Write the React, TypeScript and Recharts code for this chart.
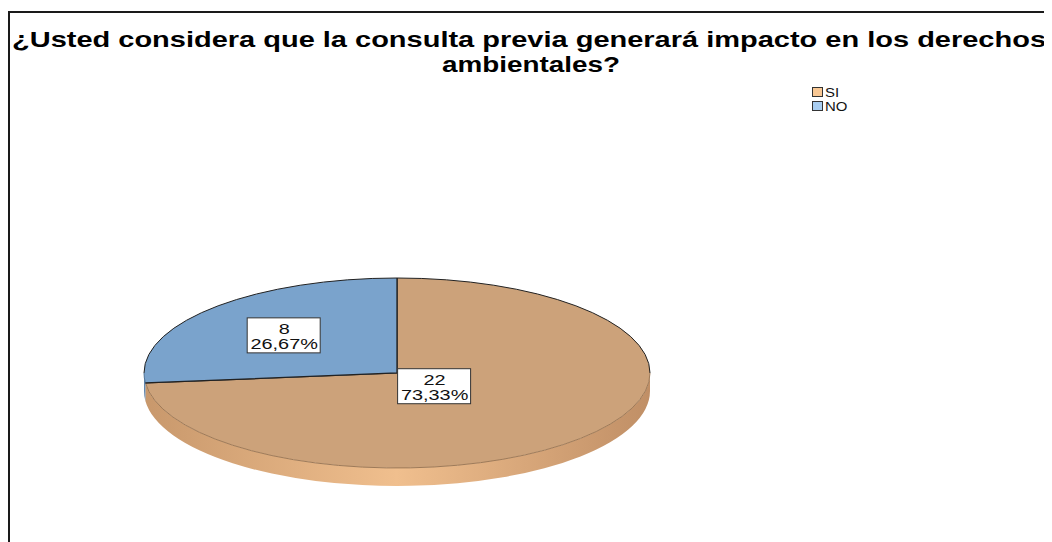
import React from 'react';
import { PieChart, Pie, Cell, Legend, Customized } from 'recharts';

const categories = ['SI', 'NO'];
const counts = [22, 8];
const topColors = ['#CCA27A', '#7AA3CC'];
const sideStops = [
  ['#C8986C', '#F0BF8E', '#C08F66'],
  ['#5F87B0', '#8FB3D8', '#5F87B0'],
];
const rimColors = ['#9E7A58', '#4F7396'];
const legendColors = ['#F9C894', '#A9CEF2'];
const labelRadius = [0.2, 0.6];
const titleLines = [
  '¿Usted considera que la consulta previa generará impacto en los derechos',
  'ambientales?',
];

const data = categories.map((name, i) => ({ name, value: counts[i] }));

const W = 1044;
const H = 534;
const CX = 389;
const CY = 365;
const RX = 253;
const RY = 95;
const DEPTH = 18;
const K = RY / RX;
const RAD = Math.PI / 180;
const FONT = '"Liberation Sans", Arial, sans-serif';

const pt = (cx: number, cy: number, r: number, a: number, dy = 0) =>
  [cx + r * Math.cos(a * RAD), cy - K * r * Math.sin(a * RAD) + dy] as [number, number];

const splitPieces = (lo: number, hi: number) => {
  const pts = [lo];
  let m = Math.ceil(lo / 180) * 180;
  if (m === lo) m += 180;
  while (m < hi) {
    pts.push(m);
    m += 180;
  }
  pts.push(hi);
  const pieces: { a: number; b: number; lower: boolean }[] = [];
  for (let i = 0; i < pts.length - 1; i++) {
    const a = pts[i];
    const b = pts[i + 1];
    const mid = (a + b) / 2;
    pieces.push({ a, b, lower: Math.sin(mid * RAD) < 0 });
  }
  return pieces;
};

const EllipseSector = (props: any) => {
  const { cx, cy, outerRadius, startAngle, endAngle, fill } = props;
  const name = props.payload?.name ?? props.name;
  const idx = Math.max(0, categories.indexOf(name));
  const r = outerRadius;
  const s = Math.max(startAngle, endAngle);
  const e = Math.min(startAngle, endAngle);
  const ps = pt(cx, cy, r, s);
  const pe = pt(cx, cy, r, e);
  const large = s - e > 180 ? 1 : 0;
  const top = `M${cx},${cy} L${ps[0]},${ps[1]} A${r},${r * K} 0 ${large} 1 ${pe[0]},${pe[1]} Z`;
  const pieces = splitPieces(e, s);
  const gid = `side-grad-${idx}`;
  return (
    <g>
      <defs>
        <linearGradient id={gid} gradientUnits="userSpaceOnUse" x1={cx - r} y1={0} x2={cx + r} y2={0}>
          <stop offset="0" stopColor={sideStops[idx][0]} />
          <stop offset="0.5" stopColor={sideStops[idx][1]} />
          <stop offset="1" stopColor={sideStops[idx][2]} />
        </linearGradient>
      </defs>
      {pieces
        .filter((p) => p.lower)
        .map((p, i) => {
          const A = pt(cx, cy, r, p.a);
          const B = pt(cx, cy, r, p.b);
          const A2 = pt(cx, cy, r, p.a, DEPTH);
          const B2 = pt(cx, cy, r, p.b, DEPTH);
          const d = `M${B[0]},${B[1]} A${r},${r * K} 0 0 1 ${A[0]},${A[1]} L${A2[0]},${A2[1]} A${r},${r * K} 0 0 0 ${B2[0]},${B2[1]} Z`;
          return <path key={`s${i}`} d={d} fill={`url(#${gid})`} stroke="none" />;
        })}
      <path d={top} fill={fill} stroke="none" />
      {pieces.map((p, i) => {
        const A = pt(cx, cy, r, p.a);
        const B = pt(cx, cy, r, p.b);
        const d = `M${B[0]},${B[1]} A${r},${r * K} 0 0 1 ${A[0]},${A[1]}`;
        return (
          <path
            key={`a${i}`}
            d={d}
            fill="none"
            stroke={p.lower ? rimColors[idx] : '#222'}
            strokeWidth={1}
          />
        );
      })}
      <path
        d={`M${ps[0]},${ps[1]} L${cx},${cy} L${pe[0]},${pe[1]}`}
        fill="none"
        stroke="#222"
        strokeWidth={1.3}
      />
    </g>
  );
};

const renderLabel = (props: any) => {
  const { cx, cy, midAngle, value, percent } = props;
  const name = props.payload?.name ?? props.name;
  const idx = Math.max(0, categories.indexOf(name));
  const r = RX * labelRadius[idx];
  const x = cx + r * Math.cos(midAngle * RAD);
  const y = cy - K * r * Math.sin(midAngle * RAD);
  const pct = (percent * 100).toFixed(2).replace('.', ',') + '%';
  return (
    <g>
      <rect x={x - 37} y={y - 17} width={73} height={35} fill="#fff" stroke="#333" strokeWidth={1} />
      <text
        transform={`translate(${x},${y - 1}) scale(1.42,1)`}
        textAnchor="middle"
        fontSize={14}
        fontFamily={FONT}
        fill="#111"
      >
        {value}
      </text>
      <text
        transform={`translate(${x},${y + 14}) scale(1.42,1)`}
        textAnchor="middle"
        fontSize={14}
        fontFamily={FONT}
        fill="#111"
      >
        {pct}
      </text>
    </g>
  );
};

const renderLegend = (props: any) => {
  const payload = [...(props.payload || [])].sort(
    (a: any, b: any) => categories.indexOf(a.value) - categories.indexOf(b.value)
  );
  return (
    <svg width={70} height={40} style={{ display: 'block', overflow: 'visible' }}>
      {payload.map((p: any, i: number) => {
        const idx = Math.max(0, categories.indexOf(p.value));
        return (
          <g key={p.value}>
            <rect x={0.5} y={4.5 + i * 14} width={10} height={9} fill={legendColors[idx]} stroke="#333" />
            <text
              transform={`translate(13,${14 + i * 14}) scale(1.15,1)`}
              fontSize={13}
              fontFamily={FONT}
              fill="#111"
            >
              {p.value}
            </text>
          </g>
        );
      })}
    </svg>
  );
};

const Decorations = () => (
  <g>
    <path d={`M1,${H} L1,4 L${W},4`} fill="none" stroke="#1a1a1a" strokeWidth={2} />
    <text
      x={4}
      y={39}
      textLength={1034}
      lengthAdjust="spacingAndGlyphs"
      fontSize={22}
      fontWeight="bold"
      fontFamily={FONT}
      fill="#000"
    >
      {titleLines[0]}
    </text>
    <text
      x={434}
      y={64}
      textLength={178}
      lengthAdjust="spacingAndGlyphs"
      fontSize={22}
      fontWeight="bold"
      fontFamily={FONT}
      fill="#000"
    >
      {titleLines[1]}
    </text>
  </g>
);

export default function App() {
  return (
    <div style={{ width: W, height: H, background: '#fff' }}>
      <PieChart width={W} height={H} margin={{ top: 0, right: 0, bottom: 0, left: 0 }}>
        <Customized component={Decorations} />
        <Pie
          data={data}
          dataKey="value"
          nameKey="name"
          cx={CX}
          cy={CY}
          outerRadius={RX}
          startAngle={90}
          endAngle={-270}
          stroke="none"
          isAnimationActive={false}
          shape={EllipseSector}
          activeShape={EllipseSector}
          inactiveShape={EllipseSector}
          label={renderLabel}
          labelLine={false}
        >
          {data.map((d, i) => (
            <Cell key={d.name} fill={topColors[i]} />
          ))}
        </Pie>
        <Legend
          content={renderLegend}
          wrapperStyle={{ position: 'absolute', left: 804, top: 75, width: 70, height: 40 }}
        />
      </PieChart>
    </div>
  );
}
